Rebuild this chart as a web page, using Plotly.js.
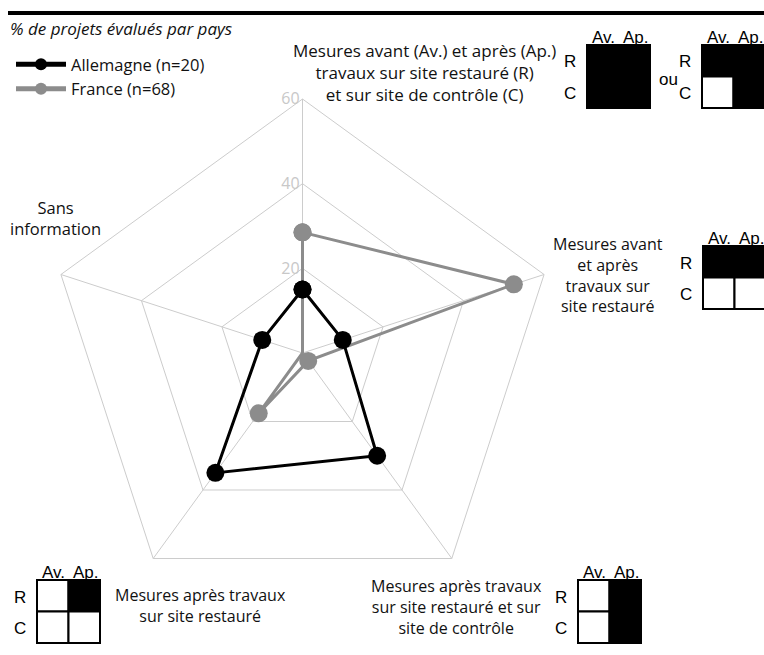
<!DOCTYPE html>
<html>
<head>
<meta charset="utf-8">
<script src="https://cdn.plot.ly/plotly-3.0.1.min.js"></script>
<style>
  html, body { margin: 0; padding: 0; background: #fff; }
  #chart { width: 764px; height: 655px; }
</style>
</head>
<body>
<div id="chart"></div>
<script>
// axes du radar, dans le sens horaire depuis le haut
var categories = ['Av/Ap R et C', 'Av/Ap R', 'Ap R et C', 'Ap R', 'Sans information'];
var allemagne = [15, 10, 30, 35, 10];
var france = [28.5, 52.5, 2.3, 17.6, 0];
var radialTicks = [20, 40, 60];

var W = 764, H = 655;
function px(x) { return x / W; }
function py(y) { return 1 - y / H; }

var FONT = 'Open Sans, DejaVu Sans, sans-serif';
var BOXFONT = 'Liberation Sans, Arial, sans-serif';

function closeLoop(arr) { return arr.concat([arr[0]]); }

var traceFrance = {
    type: 'scatterpolar',
    r: closeLoop(france),
    theta: closeLoop(categories),
    mode: 'lines+markers',
    name: 'France (n=68)',
    line: { color: '#8c8c8c', width: 3 },
    marker: { color: '#8c8c8c', size: 18 },
    cliponaxis: false
};
var traceAllemagne = {
    type: 'scatterpolar',
    r: closeLoop(allemagne),
    theta: closeLoop(categories),
    mode: 'lines+markers',
    name: 'Allemagne (n=20)',
    line: { color: '#000000', width: 3 },
    marker: { color: '#000000', size: 18 },
    cliponaxis: false
};

// petites grilles Av./Ap. x R/C ; fill = [[R-Av, R-Ap], [C-Av, C-Ap]]
var shapes = [];
var annotations = [];
function addBox(x0, y0, fill) {
    var s = 31.5;
    for (var i = 0; i < 2; i++) {
        for (var j = 0; j < 2; j++) {
            shapes.push({
                type: 'rect', xref: 'paper', yref: 'paper',
                x0: px(x0 + j * s), x1: px(x0 + (j + 1) * s),
                y0: py(y0 + i * s), y1: py(y0 + (i + 1) * s),
                fillcolor: fill[i][j] ? '#000' : '#fff',
                line: { color: '#000', width: 2 }
            });
        }
    }
    var labels = [
        ['Av.', x0 + 16, y0 - 8],
        ['Ap.', x0 + 49, y0 - 8],
        ['R', x0 - 17, y0 + 17],
        ['C', x0 - 17, y0 + 48]
    ];
    labels.forEach(function (l) {
        annotations.push({
            text: l[0], xref: 'paper', yref: 'paper', x: px(l[1]), y: py(l[2]),
            xanchor: 'center', yanchor: 'middle', showarrow: false,
            font: { family: BOXFONT, size: 17, color: '#000' }
        });
    });
}
addBox(587, 45, [[1, 1], [1, 1]]);
addBox(702, 45, [[1, 1], [0, 1]]);
addBox(703, 246, [[1, 1], [0, 0]]);
addBox(37, 580, [[0, 1], [0, 0]]);
addBox(578, 580, [[0, 1], [0, 1]]);

annotations.push({
    text: 'ou', xref: 'paper', yref: 'paper', x: px(668), y: py(79),
    xanchor: 'center', yanchor: 'middle',
    showarrow: false, font: { family: BOXFONT, size: 17, color: '#000' }
});

// libellés des axes : texte, x, y, taille
var axisLabels = [
    ['Mesures avant (Av.) et après (Ap.)<br>travaux sur site restauré (R)<br>et sur site de contrôle (C)', 424, 73, 17],
    ['Mesures avant<br>et après<br>travaux sur<br>site restauré', 608, 275, 16],
    ['Mesures après travaux<br>sur site restauré et sur<br>site de contrôle', 456, 607, 16],
    ['Mesures après travaux<br>sur site restauré', 200, 605, 16],
    ['Sans<br>information', 55, 218, 16.5]
];
axisLabels.forEach(function (l) {
    annotations.push({
        text: l[0], xref: 'paper', yref: 'paper', x: px(l[1]), y: py(l[2]),
        xanchor: 'center', yanchor: 'middle', align: 'center', showarrow: false,
        font: { family: FONT, size: l[3], color: '#111' }
    });
});

annotations.push({
    text: '<i>% de projets évalués par pays</i>', xref: 'paper', yref: 'paper',
    x: px(8), y: py(28), xanchor: 'left', yanchor: 'middle', showarrow: false,
    font: { family: FONT, size: 17, color: '#111' }
});

shapes.push({
    type: 'line', xref: 'paper', yref: 'paper',
    x0: px(8), x1: 1, y0: py(13), y1: py(13),
    line: { color: '#000', width: 4 }
});

var layout = {
    width: W,
    height: H,
    margin: { l: 0, r: 0, t: 0, b: 0 },
    paper_bgcolor: '#fff',
    font: { family: FONT, size: 17, color: '#111' },
    showlegend: true,
    legend: {
        x: px(11), y: py(47), xanchor: 'left', yanchor: 'top',
        traceorder: 'reversed', itemwidth: 50, itemsizing: 'constant',
        font: { family: FONT, size: 16.5, color: '#111' },
        bgcolor: 'rgba(0,0,0,0)'
    },
    polar: {
        domain: { x: [px(48.5), px(556.5)], y: [py(607), py(99)] },
        gridshape: 'linear',
        bgcolor: '#fff',
        radialaxis: {
            range: [0, 60],
            tickvals: radialTicks,
            angle: 90,
            tickangle: 90,
            side: 'counterclockwise',
            showline: false,
            ticks: '',
            gridcolor: '#cccccc',
            gridwidth: 1,
            tickfont: { family: FONT, size: 16, color: '#c8c8c8' }
        },
        angularaxis: {
            type: 'category',
            categoryarray: categories,
            rotation: 90,
            direction: 'clockwise',
            showticklabels: false,
            ticks: '',
            showline: true,
            linecolor: '#cccccc',
            linewidth: 1,
            gridcolor: '#cccccc',
            gridwidth: 1
        }
    },
    shapes: shapes,
    annotations: annotations
};

Plotly.newPlot('chart', [traceFrance, traceAllemagne], layout, { displayModeBar: false, staticPlot: true });
</script>
</body>
</html>
